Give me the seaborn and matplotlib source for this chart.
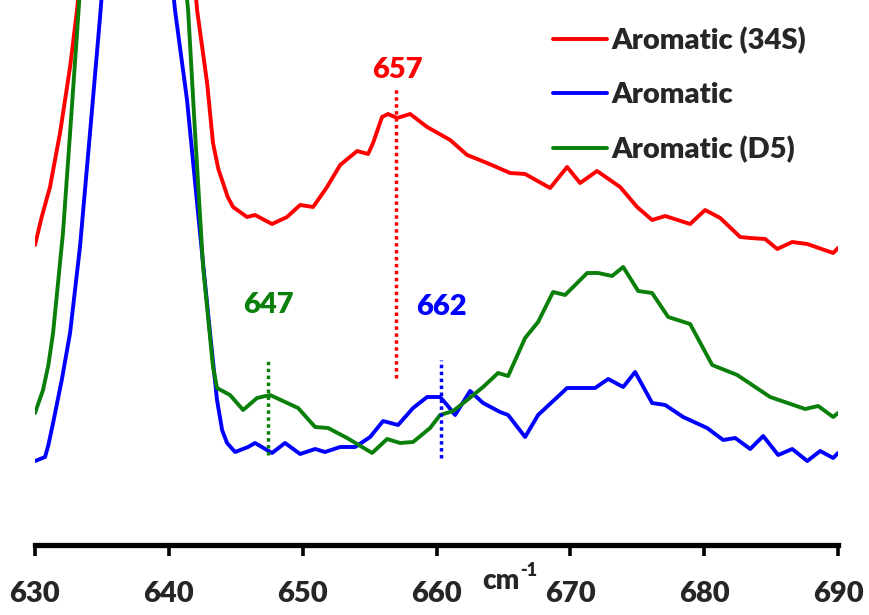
import matplotlib
matplotlib.use("Agg")
import matplotlib.pyplot as plt
import seaborn as sns
import pandas as pd

# ---- data (wavenumber cm-1, relative intensity) ----
red_x = [630.0, 630.5, 631.12, 631.87, 632.62, 633.14, 633.36, 637.62, 641.96, 642.11, 642.86,
         643.30, 643.7, 644.05, 644.4, 644.80, 645.84, 646.44, 647.71, 648.83, 649.81, 650.78, 651.82,
         652.80, 654.07, 654.89, 655.26, 655.93, 656.38, 657.06, 658.03, 659.30, 661.02,
         662.29, 663.78, 665.50, 666.62, 668.49, 669.76, 670.73, 672.00, 673.72, 674.99,
         676.11, 677.09, 678.95, 680.07, 681.20, 682.69, 683.44, 684.56, 685.46, 686.58,
         687.70, 689.64, 690.0]
red_y = [300, 328, 358, 412, 478, 535, 565, 1245, 560, 535, 462,
         402, 376, 362, 348, 338, 328, 330, 321, 328, 340, 338, 358,
         380, 394, 391, 402, 428, 431, 427, 431, 418, 405,
         390, 382, 372, 371, 357, 378, 362, 374, 358, 338,
         325, 329, 321, 335, 327, 308, 307, 306, 296, 303,
         301, 292, 297]

blue_x = [630.0, 630.75, 631.0, 631.35, 632.0, 632.62, 633.36, 634.11, 634.86, 635.08, 637.70, 640.24,
          640.46, 641.36, 642.33, 643.08, 643.60, 643.98, 644.35, 644.95, 645.92, 646.44,
          647.71, 648.68, 649.81, 650.93, 651.67, 652.80, 653.92, 655.04, 656.01, 657.13,
          658.25, 659.30, 660.27, 660.79, 661.39, 662.51, 663.48, 664.75, 665.35, 666.62,
          667.59, 669.76, 671.85, 672.83, 673.95, 674.84, 676.11, 677.09, 678.43, 680.22,
          681.42, 682.32, 683.44, 684.41, 685.53, 686.58, 687.70, 688.67, 689.64, 690.0]
blue_y = [84, 88, 100, 122, 165, 212, 298, 412, 528, 565, 1245, 565,
          535, 445, 312, 212, 145, 115, 102, 93, 98, 102,
          92, 102, 91, 96, 93, 98, 98, 108, 124, 120,
          137, 148, 148, 140, 130, 154, 142, 133, 130, 108,
          130, 157, 157, 166, 158, 173, 142, 140, 128, 117,
          105, 107, 96, 109, 90, 96, 84, 94, 87, 92]

green_x = [630.0, 630.60, 631.0, 631.35, 632.09, 632.62, 633.14, 633.36, 637.77, 641.29, 641.44,
           641.96, 642.56, 643.30, 643.60, 644.57, 645.55, 646.59, 647.56, 648.53, 649.66,
           650.93, 651.90, 653.32, 655.19, 656.31, 657.28, 658.25, 659.52, 660.27, 661.24,
           662.29, 663.48, 664.60, 665.35, 666.62, 667.59, 668.71, 669.61, 671.26, 672.08,
           673.12, 673.95, 675.07, 676.11, 677.31, 678.95, 680.60, 682.47, 684.93, 687.55,
           688.52, 689.64, 690.0]
green_y = [132, 155, 180, 212, 312, 412, 512, 555, 1245, 555, 535,
           412, 278, 178, 157, 150, 135, 147, 150, 144, 137,
           118, 117, 107, 92, 106, 102, 103, 117, 130, 134,
           145, 158, 172, 169, 207, 223, 253, 250, 272, 272,
           269, 278, 254, 252, 228, 221, 180, 170, 148, 136,
           139, 128, 132]

series_names = ["Aromatic (34S)", "Aromatic", "Aromatic (D5)"]
series_colors = ["#FF0000", "#0000FF", "#0A7F0A"]
xticks = [630, 640, 650, 660, 670, 680, 690]

# peak markers: label, x position, line bottom, line top, label y
peak_labels = ["657", "647", "662"]
peak_x = [657.0, 647.4, 660.3]
peak_lo = [167, 90, 87]
peak_hi = [457, 185, 185]
peak_label_y = [475, 240, 238]
peak_colors = ["#FF0000", "#0A7F0A", "#0000FF"]

# ---- build table ----
frames = []
for name, xs, ys in zip(series_names, [red_x, blue_x, green_x], [red_y, blue_y, green_y]):
    frames.append(pd.DataFrame({"x": xs, "y": ys, "series": name}))
df = pd.concat(frames, ignore_index=True)

sns.set_style("white")
plt.rcParams["font.family"] = ["Lato", "DejaVu Sans"]

fig = plt.figure(figsize=(8.7, 6.15), dpi=100)
ax = fig.add_axes([35 / 870, 70 / 615, (838 - 35) / 870, 545 / 615])

sns.lineplot(data=df, x="x", y="y", hue="series", hue_order=series_names,
             palette=dict(zip(series_names, series_colors)), sort=False,
             estimator=None, units="series", linewidth=2.8, ax=ax)

ax.set_xlim(630, 690)
ax.set_ylim(0, 545)

for lab, px, lo, hi, ly, c in zip(peak_labels, peak_x, peak_lo, peak_hi, peak_label_y, peak_colors):
    ax.plot([px, px], [lo, hi], color=c, linestyle=(0, (1, 1)), linewidth=2.5)
    ax.text(px + 0.05, ly, lab, color=c, fontsize=21, fontweight="heavy",
            ha="center", va="center")

for s in ["top", "left", "right"]:
    ax.spines[s].set_visible(False)
ax.spines["bottom"].set_linewidth(3.8)
ax.spines["bottom"].set_color("black")
ax.set_yticks([])
ax.set_xticks(xticks)
ax.set_xticklabels([str(t) for t in xticks], fontsize=21, fontweight="heavy")
ax.tick_params(axis="x", bottom=True, direction="out", length=8, width=2.6,
               color="black", pad=18)
ax.set_xlabel("")
ax.set_ylabel("")

fig.text(501 / 870, 1 - 581 / 615, "cm", fontsize=20, fontweight="heavy",
         ha="center", va="center")
fig.text(520 / 870, 1 - 571 / 615, "-1", fontsize=13, fontweight="heavy",
         ha="left", va="center")

leg = ax.legend(loc="upper left", bbox_to_anchor=(553 / 870, 1 - 27 / 615),
                bbox_transform=fig.transFigure, frameon=False, fontsize=21,
                handlelength=1.85, handletextpad=0.15, labelspacing=0.95,
                borderpad=0, borderaxespad=0)
for t in leg.get_texts():
    t.set_fontweight("heavy")
for l in leg.get_lines():
    l.set_linewidth(2.8)

fig.savefig("out.png", dpi=100)
